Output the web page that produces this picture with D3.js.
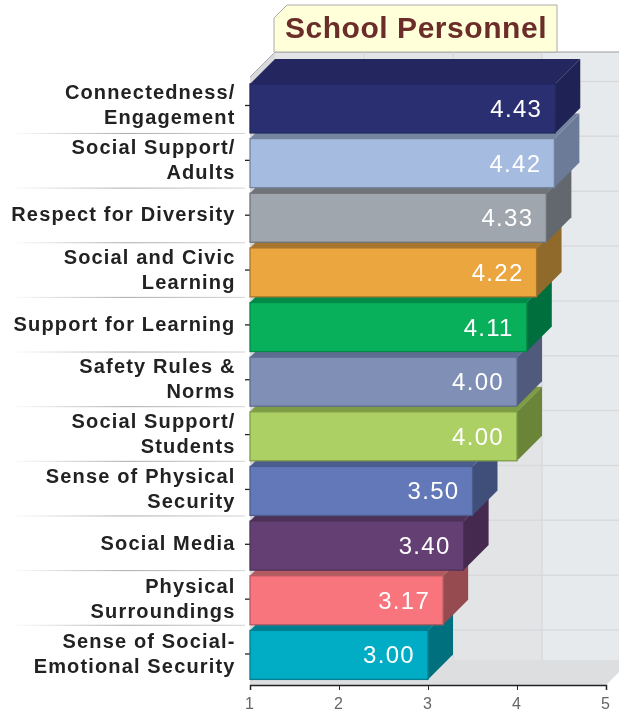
<!DOCTYPE html>
<html><head><meta charset="utf-8">
<script src="https://cdn.jsdelivr.net/npm/d3@7/dist/d3.min.js"></script>
<style>
html,body{margin:0;padding:0;background:#fff;overflow:hidden}
svg{display:block;filter:blur(0.45px);font-family:"Liberation Sans",Arial,sans-serif}
</style></head><body><div id="c"></div>
<script>
const title = "School Personnel";
const categories = [
  ["Connectedness/","Engagement"],["Social Support/","Adults"],["Respect for Diversity"],
  ["Social and Civic","Learning"],["Support for Learning"],["Safety Rules &","Norms"],
  ["Social Support/","Students"],["Sense of Physical","Security"],["Social Media"],
  ["Physical","Surroundings"],["Sense of Social-","Emotional Security"]];
const values = [4.43,4.42,4.33,4.22,4.11,4.00,4.00,3.50,3.40,3.17,3.00];
const xTicks = [1,2,3,4,5];
const fronts = ["#2a2f72","#a6bbe0","#9fa6ad","#eca640","#08b05c","#7f8fb5","#add065","#6378b8","#643f74","#f8757d","#00adc5"];
const sides  = ["#1e2255","#6b7b98","#62686d","#8f6a2a","#006f3e","#4f5a7d","#6a8438","#3f4f7a","#45294f","#954b50","#006f7e"];
const tops   = ["#23265f","#75859f","#6f7479","#a8752e","#008a47","#5f6c91","#7e9c44","#4b5c8e","#4e3159","#b35a60","#007f90"];

const W=619,H=716, dx=25, dy=25, axisY=685;
const svg=d3.select("#c").append("svg").attr("width",W).attr("height",H);
const x=d3.scaleLinear().domain([1,5]).range([250,606]);
const ids=categories.map((d,i)=>i);
const y=d3.scaleBand().domain(ids).range([78.3,679.4]).paddingInner(0).paddingOuter(0);
const tickY=d3.scalePoint().domain(ids).range([105.5,654]);
const poly=p=>p.map(q=>q.join(",")).join(" ");

const defs=svg.append("defs");
const lg=defs.append("linearGradient").attr("id","sep");
[[0,0],[0.5,1],[1,0.5]].forEach(s=>lg.append("stop").attr("offset",s[0]).attr("stop-color","#aaa").attr("stop-opacity",s[1]));

// walls
const wallTop=52, wallBot=axisY-dy;
svg.append("polygon").attr("points",poly([[x(1)+dx,wallTop],[W+20,wallTop],[W+20,wallBot],[x(1)+dx,wallBot]])).attr("fill","#e7eaed");
svg.append("polygon").attr("points",poly([[x(1)+dx,wallTop],[x(4)+dx,wallTop],[x(4)+dx,wallBot],[x(1)+dx,wallBot]])).attr("fill","#e3e4e6");
svg.append("polygon").attr("points",poly([[x(1),wallTop+dy],[x(1)+dx,wallTop],[x(1)+dx,wallBot],[x(1),axisY]])).attr("fill","#d8d9db");
svg.append("polygon").attr("points",poly([[x(1),axisY],[x(5),axisY],[x(5)+dx,wallBot],[x(1)+dx,wallBot]])).attr("fill","#dcdee0");
svg.append("line").attr("x1",x(1)+dx).attr("x2",W).attr("y1",wallTop).attr("y2",wallTop).attr("stroke","#9a9a9a");
svg.append("line").attr("x1",x(1)).attr("x2",x(1)+dx).attr("y1",wallTop+dy).attr("y2",wallTop).attr("stroke","#aaa");
// grid
xTicks.slice(1).forEach(t=>svg.append("line").attr("x1",x(t)+dx).attr("x2",x(t)+dx).attr("y1",wallTop).attr("y2",wallBot).attr("stroke","#d9dadc").attr("stroke-width",1.5));
ids.forEach(i=>svg.append("line").attr("x1",x(1)+dx).attr("x2",W).attr("y1",tickY(i)-24).attr("y2",tickY(i)-24).attr("stroke","#d9dadc").attr("stroke-width",1.5));

// separators and category labels
ids.slice(0,-1).forEach(i=>svg.append("rect").attr("x",10).attr("width",235).attr("y",y(i)+y.bandwidth()).attr("height",1).attr("fill","url(#sep)"));
const lab=svg.append("g").attr("font-weight","bold").attr("font-size",20).attr("letter-spacing",1.15).attr("fill","#222").attr("text-anchor","end");
categories.forEach((c,i)=>{
  const t=lab.append("text").attr("x",235);
  c.forEach((s,k)=>t.append("tspan").attr("x",235.5).attr("y",tickY(i)+6+(k-(c.length-1)/2)*25).text(s));
  svg.append("line").attr("x1",245).attr("x2",250).attr("y1",tickY(i)).attr("y2",tickY(i)).attr("stroke","#222").attr("stroke-width",1.3);
});

// bars, bottom to top so upper bars cover the lower bars' tops
const barH=49;
ids.slice().reverse().forEach(i=>{
  const b=y(i)+y.bandwidth(), t=b-barH, r=x(values[i]), l=x(1);
  const g=svg.append("g");
  g.append("polygon").attr("points",poly([[l,t],[l+dx,t-dy],[r+dx,t-dy],[r,t]])).attr("fill",tops[i]);
  g.append("polygon").attr("points",poly([[r,t],[r+dx,t-dy],[r+dx,b-dy],[r,b]])).attr("fill",sides[i]);
  g.append("rect").attr("x",l).attr("y",t).attr("width",r-l).attr("height",barH).attr("fill",fronts[i]).attr("stroke",tops[i]).attr("stroke-width",1.3);
  g.append("text").attr("x",r-13).attr("y",t+33).attr("text-anchor","end").attr("fill","#fff")
   .attr("font-size",24).attr("letter-spacing",1.3).text(values[i].toFixed(2));
});

// x axis
const ax=svg.append("g").attr("transform",`translate(0,${axisY})`)
  .call(d3.axisBottom(x).tickValues(xTicks).tickFormat(d3.format("d")).tickSize(5).tickPadding(8));
ax.selectAll("path").attr("stroke","#222").attr("stroke-width",1.5);
ax.selectAll("line").attr("stroke","#222");
ax.selectAll("text").attr("fill","#666").attr("font-size",16).attr("dx",-1).attr("font-family","Liberation Sans");

// title tab
svg.append("polygon").attr("points",poly([[274,52],[274,18],[287,5],[557,5],[557,52]])).attr("fill","#ffffd9").attr("stroke","#aaa");
svg.append("text").attr("x",416).attr("y",37.5).attr("text-anchor","middle").attr("font-weight","bold").attr("font-size",30).attr("letter-spacing",0.55).attr("fill","#6b2d2a").text(title);
</script></body></html>
